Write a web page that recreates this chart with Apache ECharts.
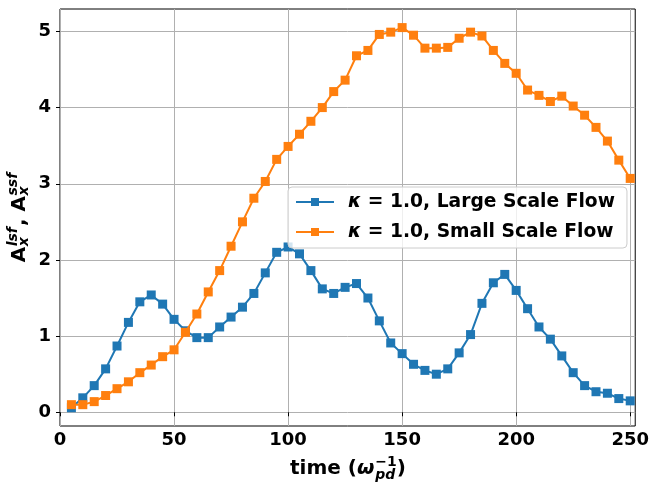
<!DOCTYPE html>
<html>
<head>
<meta charset="utf-8">
<script src="https://cdn.jsdelivr.net/npm/echarts@6/dist/echarts.min.js"></script>
<style>
html,body{margin:0;padding:0;background:#fff;}
#chart{width:652px;height:485px;}
</style>
</head>
<body>
<div id="chart"></div>
<script>
const times = [5,10,15,20,25,30,35,40,45,50,55,60,65,70,75,80,85,90,95,100,105,110,115,120,125,130,135,140,145,150,155,160,165,170,175,180,185,190,195,200,205,210,215,220,225,230,235,240,245,250];
const largeScale = [0.06,0.19,0.35,0.57,0.87,1.18,1.45,1.54,1.42,1.22,1.07,0.98,0.98,1.12,1.25,1.38,1.56,1.83,2.10,2.17,2.08,1.86,1.62,1.56,1.64,1.69,1.50,1.20,0.91,0.77,0.63,0.55,0.50,0.57,0.78,1.02,1.43,1.70,1.81,1.60,1.36,1.12,0.96,0.74,0.52,0.35,0.27,0.25,0.18,0.15];
const smallScale = [0.10,0.10,0.14,0.22,0.31,0.40,0.52,0.62,0.73,0.82,1.05,1.29,1.58,1.86,2.18,2.50,2.81,3.03,3.32,3.49,3.65,3.82,4.00,4.21,4.36,4.68,4.75,4.96,4.99,5.05,4.95,4.78,4.78,4.79,4.91,4.99,4.94,4.75,4.58,4.45,4.23,4.16,4.08,4.15,4.02,3.90,3.74,3.56,3.31,3.07];
const xTicks = [0,50,100,150,200,250];
const yTicks = [0,1,2,3,4,5];
const seriesNames = ['κ = 1.0, Large Scale Flow', 'κ = 1.0, Small Scale Flow'];

const FAM = '"DejaVu Sans"';
const cv = document.createElement('canvas').getContext('2d');
function measure(text, size, italic){
  cv.font = (italic ? 'italic ' : '') + 'bold ' + size + 'px ' + FAM;
  return cv.measureText(text).width;
}
function txt(text, x, baseline, size, italic){
  return {type:'text', x:x, y: baseline - 0.346*size, silent:true,
    style:{text:text, fill:'#000', fontSize:size, fontWeight:'bold', fontStyle: italic?'italic':'normal',
      fontFamily:'DejaVu Sans', align:'left', verticalAlign:'middle'}};
}
function buildLabel(items){
  let cx = 0; const children = [];
  items.forEach(it => {
    if (it.stack){
      const ws = it.stack.map(s => measure(s.text, s.size, s.italic));
      it.stack.forEach(s => children.push(txt(s.text, cx + (s.dx||0), s.dy, s.size, s.italic)));
      cx += Math.max.apply(null, ws) + (it.after||0);
    } else {
      children.push(txt(it.text, cx, 0, it.size, it.italic));
      cx += measure(it.text, it.size, it.italic) + (it.after||0);
    }
  });
  return {children, width: cx};
}

const xl = buildLabel([
  {text:'time (', size:20},
  {text:'ω', size:20, italic:true, after:1},
  {stack:[{text:'pd', size:14, italic:true, dy:4},{text:'−1', size:14, dy:-9}]},
  {text:')', size:20}
]);
const yl = buildLabel([
  {text:'A', size:20, after:0.5},
  {stack:[{text:'x', size:14, italic:true, dy:2},{text:'lsf', size:14, italic:true, dy:-9}], after:1},
  {text:', ', size:20},
  {text:'A', size:20, after:0.5},
  {stack:[{text:'x', size:14, italic:true, dy:2},{text:'ssf', size:14, italic:true, dy:-9}]}
]);

const chart = echarts.init(document.getElementById('chart'), null, {renderer:'canvas'});
const axisLabelStyle = {color:'#000', fontSize:18, fontWeight:'bold', fontFamily:'DejaVu Sans'};
chart.setOption({
  animation:false,
  backgroundColor:'#fff',
  grid:{left:60, right:16, top:9, bottom:59, show:true, borderColor:'#000', borderWidth:1, backgroundColor:'transparent'},
  xAxis:{type:'value', min:0, max:252.2,
    axisLine:{show:false},
    axisTick:{show:true, inside:false, length:4, lineStyle:{color:'#000', width:1}, customValues:xTicks},
    axisLabel:Object.assign({margin:5, customValues:xTicks, formatter: v => String(v)}, axisLabelStyle),
    splitLine:{show:true, lineStyle:{color:'#b0b0b0', width:1}}},
  yAxis:{type:'value', min:-0.18, max:5.294,
    axisLine:{show:false},
    axisTick:{show:true, inside:false, length:4, lineStyle:{color:'#000', width:1}, customValues:yTicks},
    axisLabel:Object.assign({margin:9, customValues:yTicks, formatter: v => String(v)}, axisLabelStyle),
    splitLine:{show:true, lineStyle:{color:'#b0b0b0', width:1}}},
  legend:{
    orient:'vertical', left:288, top:187,
    data:seriesNames,
    itemWidth:38, itemHeight:10, itemGap:10,
    padding:[5,12,6,7],
    backgroundColor:'rgba(255,255,255,0.8)', borderColor:'#cccccc', borderWidth:1, borderRadius:4,
    formatter: n => '{k|κ}' + n.slice(1),
    textStyle:{color:'#000', fontSize:18.7, fontWeight:'bold', fontFamily:'DejaVu Sans', lineHeight:20, padding:[0,0,0,9],
      rich:{k:{fontStyle:'italic', fontWeight:'bold', fontSize:18.7, fontFamily:'DejaVu Sans', color:'#000'}}}
  },
  series:[
    {name:seriesNames[0], type:'line', data:times.map((t,i)=>[t, largeScale[i]]),
      symbol:'rect', symbolSize:9, color:'#1f77b4', lineStyle:{width:2, color:'#1f77b4'}, itemStyle:{color:'#1f77b4'}, z:2},
    {name:seriesNames[1], type:'line', data:times.map((t,i)=>[t, smallScale[i]]),
      symbol:'rect', symbolSize:9, color:'#ff7f0e', lineStyle:{width:2, color:'#ff7f0e'}, itemStyle:{color:'#ff7f0e'}, z:3}
  ],
  graphic:[
    {type:'group', x: 348 - xl.width/2, y: 476, children: xl.children, silent:true},
    {type:'group', x: 27, y: 217.5 + yl.width/2, rotation: Math.PI/2, children: yl.children, silent:true}
  ]
});
</script>
</body>
</html>
